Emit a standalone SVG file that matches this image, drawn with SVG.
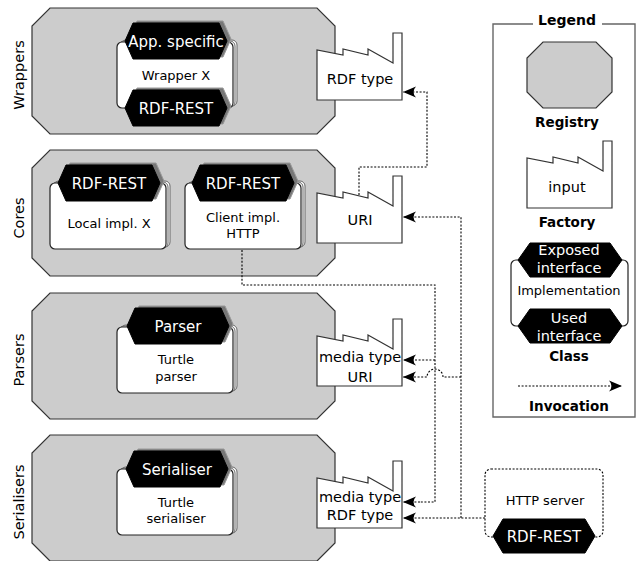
<svg xmlns="http://www.w3.org/2000/svg" xmlns:xlink="http://www.w3.org/1999/xlink" width="636" height="561" viewBox="0 0 636 561">
<style>
text{font-family:"DejaVu Sans","Liberation Sans",sans-serif;}
.reg{fill:#cccccc;stroke:#333;stroke-width:1.2;}
.lbl{font-size:14.5px;fill:#000;text-anchor:middle;}
.box{fill:#fff;stroke:#222;stroke-width:1.2;}
.boxsh{fill:#fff;stroke:#666;stroke-width:1;}
.hex{fill:#000;stroke:#000;stroke-width:1;}
.hexsh{fill:#777;stroke:#999;stroke-width:1;}
.it{font-size:15px;fill:#fff;text-anchor:middle;}
.bt{font-size:13px;fill:#000;text-anchor:middle;}
.fac{fill:#fff;stroke:#333;stroke-width:1.2;}
.ft{font-size:14.5px;fill:#000;text-anchor:middle;}
.con{fill:none;stroke:#000;stroke-width:1.1;stroke-dasharray:2,1.6;}
.arr{marker-end:url(#ah);}
.leg{fill:none;stroke:#666;stroke-width:1.4;}
.lb{font-size:13.5px;font-weight:bold;fill:#000;text-anchor:middle;}
</style>
<defs>
<marker id="ah" markerUnits="userSpaceOnUse" markerWidth="16" markerHeight="12" viewBox="-14 -6 16 12" refX="0" refY="0" orient="auto">
<path d="M0,0 L-13,-5.5 Q-8,0 -13,5.5 Z" fill="#000"/>
</marker>
<path id="hex" d="M-51,0 L-43,-18 H43 L51,0 L43,18 H-43 Z"/>
<rect id="cbox" x="0" y="0" width="116" height="66" rx="5"/>
<path id="factory" d="M0,0 V-50 L26,-45 V-51 L51,-45 V-51 L76,-37 V-67 H85 V0 Z"/>
</defs>

<g id="wrappers">
<polygon class="reg" points="50,8 317,8 335,26 335,116 317,134 50,134 32,116 32,26"/>
<text class="lbl" transform="translate(24,75) rotate(-90)">Wrappers</text>
</g>
<g id="cores">
<polygon class="reg" points="50,150 317,150 335,168 335,258 317,276 50,276 32,258 32,168"/>
<text class="lbl" transform="translate(24,218) rotate(-90)">Cores</text>
</g>
<g id="parsers">
<polygon class="reg" points="50,293 317,293 335,311 335,401 317,419 50,419 32,401 32,311"/>
<text class="lbl" transform="translate(24,360) rotate(-90)">Parsers</text>
</g>
<g id="serialisers">
<polygon class="reg" points="50,435 317,435 335,453 335,543 317,561 50,561 32,543 32,453"/>
<text class="lbl" transform="translate(24,502) rotate(-90)">Serialisers</text>
</g>

<g id="wrapper-x">
<use xlink:href="#cbox" class="boxsh" x="121" y="40"/>
<use xlink:href="#cbox" class="boxsh" x="119" y="41"/>
<use xlink:href="#cbox" class="box" x="117" y="42"/>
<use xlink:href="#hex" class="hexsh" x="180" y="39"/>
<use xlink:href="#hex" class="hex" x="176" y="41"/>
<use xlink:href="#hex" class="hexsh" x="180" y="106"/>
<use xlink:href="#hex" class="hex" x="176" y="108"/>
<text class="it" x="176" y="46.5">App. specific</text>
<text class="bt" x="176" y="80">Wrapper X</text>
<text class="it" x="176" y="113.5">RDF-REST</text>
</g>

<g id="local-impl">
<use xlink:href="#cbox" class="boxsh" x="54" y="181"/>
<use xlink:href="#cbox" class="boxsh" x="52" y="182"/>
<use xlink:href="#cbox" class="box" x="50" y="183"/>
<use xlink:href="#hex" class="hexsh" x="113" y="181"/>
<use xlink:href="#hex" class="hex" x="109" y="183"/>
<text class="it" x="109" y="188.5">RDF-REST</text>
<text class="bt" x="109" y="227.5">Local impl. X</text>
</g>

<g id="client-impl">
<use xlink:href="#cbox" class="boxsh" x="189" y="181"/>
<use xlink:href="#cbox" class="boxsh" x="187" y="182"/>
<use xlink:href="#cbox" class="box" x="185" y="183"/>
<use xlink:href="#hex" class="hexsh" x="247" y="181"/>
<use xlink:href="#hex" class="hex" x="243" y="183"/>
<text class="it" x="243" y="188.5">RDF-REST</text>
<text class="bt" x="243" y="221.5">Client impl.</text>
<text class="bt" x="243" y="237.5">HTTP</text>
</g>

<g id="turtle-parser">
<use xlink:href="#cbox" class="boxsh" x="121" y="325"/>
<use xlink:href="#cbox" class="boxsh" x="119" y="326"/>
<use xlink:href="#cbox" class="box" x="117" y="327"/>
<use xlink:href="#hex" class="hexsh" x="182" y="324"/>
<use xlink:href="#hex" class="hex" x="178" y="326"/>
<text class="it" x="178" y="331.5">Parser</text>
<text class="bt" x="176" y="363.5">Turtle</text>
<text class="bt" x="176" y="380.5">parser</text>
</g>

<g id="turtle-serialiser">
<use xlink:href="#cbox" class="boxsh" x="121" y="467"/>
<use xlink:href="#cbox" class="boxsh" x="119" y="468"/>
<use xlink:href="#cbox" class="box" x="117" y="469"/>
<use xlink:href="#hex" class="hexsh" x="181" y="467"/>
<use xlink:href="#hex" class="hex" x="177" y="469"/>
<text class="it" x="177" y="474.5">Serialiser</text>
<text class="bt" x="176" y="506.5">Turtle</text>
<text class="bt" x="176" y="522.5">serialiser</text>
</g>

<g id="factory-rdftype">
<use xlink:href="#factory" class="fac" x="317" y="100"/>
<text class="ft" x="360" y="84">RDF type</text>
</g>
<g id="factory-uri">
<use xlink:href="#factory" class="fac" x="317" y="243"/>
<text class="ft" x="360" y="225">URI</text>
</g>
<g id="factory-parser">
<use xlink:href="#factory" class="fac" x="317" y="386"/>
<text class="ft" x="360" y="362">media type</text>
<text class="ft" x="360" y="382">URI</text>
</g>
<g id="factory-serialiser">
<use xlink:href="#factory" class="fac" x="317" y="528"/>
<text class="ft" x="360" y="502">media type</text>
<text class="ft" x="360" y="520">RDF type</text>
</g>

<g id="http-server">
<rect x="485" y="469" width="118" height="68" rx="6" fill="none" stroke="#000" stroke-width="1.1" stroke-dasharray="2,1.6"/>
<text class="bt" x="545" y="505">HTTP server</text>
<polygon class="hex" points="493,536 503,519 585,519 595,536 585,553 503,553"/>
<text class="it" x="544" y="542">RDF-REST</text>
</g>

<g id="connectors">
<path class="con arr" d="M359,195 V167 H427 V92 H403"/>
<path class="con arr" d="M461,518 V217 H403"/>
<path class="con" d="M242,250 V285 H435 V502 H420"/>
<path class="con arr" d="M420,502 H403"/>
<path class="con arr" d="M435,360 H403"/>
<path class="con arr" d="M461,377 H443 A8,8 0 0 0 427,377 H403"/>
<path class="con arr" d="M485,518 H403"/>
</g>

<g id="legend">
<path class="leg" d="M533,24 H493 V417 H635 V24 H602"/>
<text class="lb" x="567" y="25" style="font-size:14px">Legend</text>
<polygon class="reg" points="543,42 596,42 612,58 612,92 596,108 543,108 527,92 527,58"/>
<text class="lb" x="567" y="127">Registry</text>
<use xlink:href="#factory" class="fac" x="527" y="208"/>
<text class="ft" x="567" y="192">input</text>
<text class="lb" x="567" y="227">Factory</text>
<rect class="box" x="511" y="260" width="117" height="66" rx="5"/>
<polygon class="hex" points="518,260 530,243 610,243 622,260 610,277 530,277"/>
<polygon class="hex" points="518,326 530,309 610,309 622,326 610,343 530,343"/>
<text class="it" x="569" y="255" style="font-size:14.5px">Exposed</text>
<text class="it" x="569" y="273" style="font-size:14.5px">interface</text>
<text class="bt" x="569" y="295">Implementation</text>
<text class="it" x="569" y="323" style="font-size:14.5px">Used</text>
<text class="it" x="569" y="341" style="font-size:14.5px">interface</text>
<text class="lb" x="569" y="361">Class</text>
<path class="con arr" d="M518,386 H622"/>
<text class="lb" x="569" y="411">Invocation</text>
</g>
</svg>
